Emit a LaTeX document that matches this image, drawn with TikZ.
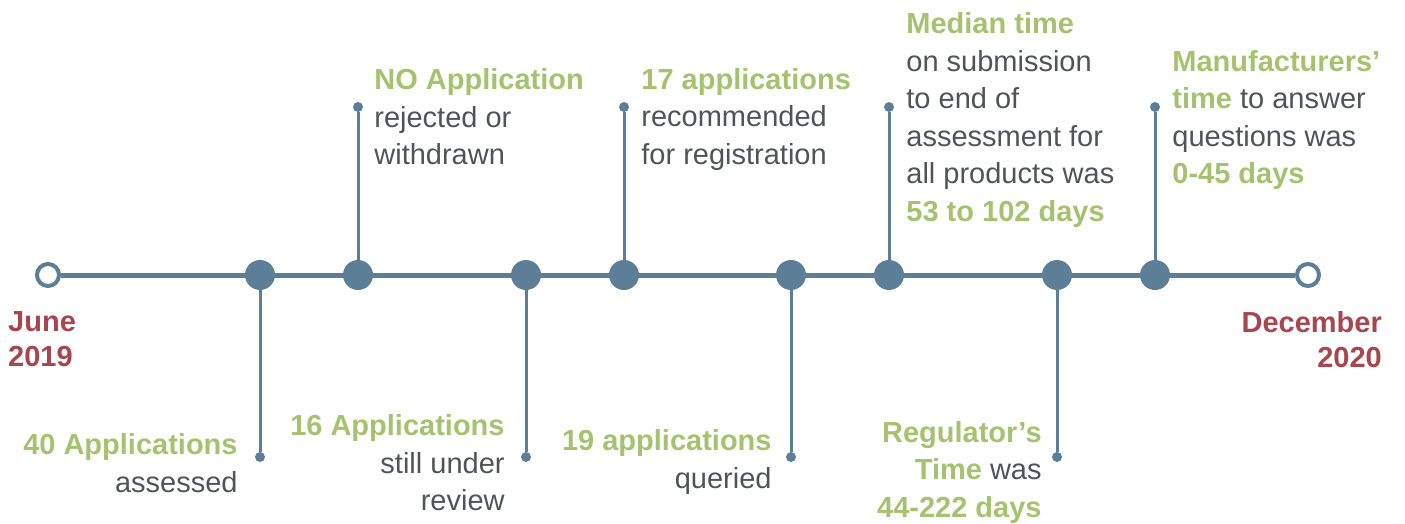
\documentclass[tikz,border=0pt]{standalone}
\usepackage{fontspec}
\setmainfont{Liberation Sans}
\usetikzlibrary{positioning}
\definecolor{TLSteel}{HTML}{5D7E97}
\definecolor{TLGreen}{HTML}{A5C36F}
\definecolor{TLRed}{HTML}{A8464F}
\definecolor{TLGray}{HTML}{505458}
\newcommand{\grn}[1]{{\color{TLGreen}\bfseries #1}}

\begin{document}
\begin{tikzpicture}[
    % one unit = one pixel of the reference
    x=1pt, y=-1pt,
    font=\fontsize{29}{37.5}\selectfont,
    % styles
    bigdot/.style={circle, fill=TLSteel, minimum size=30pt, inner sep=0pt},
    enddot/.style={circle, fill=TLSteel, minimum size=10pt, inner sep=0pt},
    opendot/.style={circle, draw=TLSteel, fill=white, line width=4pt, minimum size=22pt, inner sep=0pt},
    stem/.style={draw=TLSteel, line width=3pt},
    timeline/.style={draw=TLSteel, line width=5pt},
    toptext/.style={text=TLGray, align=left, inner sep=0pt},
    bottext/.style={text=TLGray, align=right, inner sep=0pt},
    datetext/.style={text=TLRed, font=\fontsize{29}{35.5}\selectfont\bfseries, inner sep=0pt}
]
    \useasboundingbox (0,0) rectangle (1405,523);

    % ====== 1. timeline and its ends ======
    \node[opendot] (start) at (48,275) {};
    \node[opendot] (stop)  at (1308,275) {};
    \draw[timeline] (start.east) -- (stop.west);

    \node[datetext, align=left, anchor=north west]  (begintxt) at (8,311)    {June\\2019};
    \node[datetext, align=right, anchor=north east] (endtxt)   at (1382,311) {December\\2020};

    % ====== 2. milestones on the line ======
    \node[bigdot] (d1) at (260,275) {};
    \node[bigdot] (d2) at (358,275) {};
    \node[bigdot] (d3) at (526,275) {};
    \node[bigdot] (d4) at (624,275) {};
    \node[bigdot] (d5) at (791,275) {};
    \node[bigdot] (d6) at (889,275) {};
    \node[bigdot] (d7) at (1057,275) {};
    \node[bigdot] (d8) at (1155,275) {};

    % stem ends: odd ones below, even ones above
    \node[enddot] (e1) at (260,457) {};
    \node[enddot] (e2) at (358,107) {};
    \node[enddot] (e3) at (526,457) {};
    \node[enddot] (e4) at (624,107) {};
    \node[enddot] (e5) at (791,457) {};
    \node[enddot] (e6) at (889,107) {};
    \node[enddot] (e7) at (1057,457) {};
    \node[enddot] (e8) at (1155,107) {};

    \draw[stem] (d1) -- (e1);
    \draw[stem] (d2) -- (e2);
    \draw[stem] (d3) -- (e3);
    \draw[stem] (d4) -- (e4);
    \draw[stem] (d5) -- (e5);
    \draw[stem] (d6) -- (e6);
    \draw[stem] (d7) -- (e7);
    \draw[stem] (d8) -- (e8);

    % ====== 3. texts above the line ======
    \node[toptext, right=11pt of e2, yshift=-10pt] (t2) {\grn{NO Application}\\rejected or\\withdrawn};
    \node[toptext, right=12pt of e4, yshift=-12pt] (t4) {\grn{17 applications}\\recommended\\for registration};
    \node[toptext, right=12pt of e6, yshift=-13pt] (t6) {\grn{Median time}\\on submission\\to end of\\assessment for\\all products was\\\grn{53 to 102 days}};
    \node[toptext, right=12pt of e8, yshift=-13pt] (t8) {\grn{Manufacturers’}\\\grn{time} to answer\\questions was\\\grn{0-45 days}};

    % ====== 4. texts below the line ======
    \node[bottext, left=17pt of e1, yshift=-6pt] (t1) {\grn{40 Applications}\\assessed};
    \node[bottext, left=16pt of e3, yshift=-6pt] (t3) {\grn{16 Applications}\\still under\\review};
    \node[bottext, left=14pt of e5, yshift=-5pt] (t5) {\grn{19 applications}\\queried};
    \node[bottext, left=10pt of e7, yshift=-15pt] (t7) {\grn{Regulator’s}\\\grn{Time} was\\\grn{44-222 days}};

\end{tikzpicture}
\end{document}
